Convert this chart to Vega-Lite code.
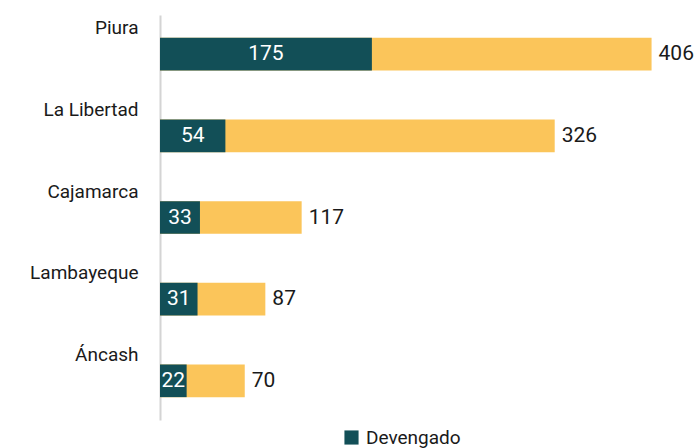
{
  "$schema": "https://vega.github.io/schema/vega-lite/v6.json",
  "width": 540,
  "height": 405,
  "autosize": {"type": "none"},
  "padding": {"left": 160, "top": 15, "right": 0, "bottom": 28},
  "background": "white",
  "config": {"view": {"stroke": null}, "font": "Roboto"},
  "data": {
    "values": [
      {"region": "Piura", "devengado": 175, "total": 406},
      {"region": "La Libertad", "devengado": 54, "total": 326},
      {"region": "Cajamarca", "devengado": 33, "total": 117},
      {"region": "Lambayeque", "devengado": 31, "total": 87},
      {"region": "Áncash", "devengado": 22, "total": 70}
    ]
  },
  "encoding": {
    "y": {
      "field": "region",
      "type": "nominal",
      "sort": null,
      "title": null,
      "scale": {"paddingInner": 0.6, "paddingOuter": 0.28},
      "axis": {
        "ticks": false,
        "domainColor": "#d4d4d4",
        "domainWidth": 2,
        "labelOffset": -26,
        "labelPadding": 22,
        "labelFontSize": 19,
        "labelColor": "#1a1a1a",
        "labelFont": "Roboto"
      }
    }
  },
  "layer": [
    {
      "mark": {"type": "bar", "color": "#fbc55a"},
      "encoding": {
        "x": {"field": "total", "type": "quantitative", "scale": {"domain": [0, 446], "nice": false}, "axis": null}
      }
    },
    {
      "mark": {"type": "bar"},
      "encoding": {
        "x": {"field": "devengado", "type": "quantitative", "scale": {"domain": [0, 446], "nice": false}, "axis": null},
        "color": {
          "datum": "Devengado",
          "scale": {"range": ["#124f57"]},
          "legend": {
            "title": null,
            "orient": "none",
            "legendX": 182,
            "legendY": 413,
            "symbolType": "square",
            "symbolSize": 200,
            "symbolStrokeWidth": 0,
            "symbolOpacity": 1,
            "labelFontSize": 19,
            "labelColor": "#1a1a1a",
            "labelOffset": 5
          }
        }
      }
    },
    {
      "mark": {"type": "text", "align": "left", "baseline": "middle", "dx": 7, "fontSize": 21, "color": "#1a1a1a"},
      "encoding": {
        "x": {"field": "total", "type": "quantitative", "scale": {"domain": [0, 446], "nice": false}, "axis": null},
        "text": {"field": "total", "type": "quantitative"}
      }
    },
    {
      "mark": {"type": "text", "align": "center", "baseline": "middle", "fontSize": 21, "color": "white"},
      "encoding": {
        "x": {"field": "devengado", "type": "quantitative", "scale": {"domain": [0, 892], "nice": false}, "axis": null},
        "text": {"field": "devengado", "type": "quantitative"}
      }
    }
  ],
  "resolve": {"scale": {"x": "independent"}}
}
